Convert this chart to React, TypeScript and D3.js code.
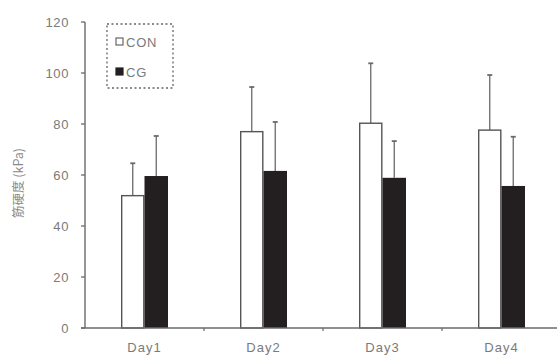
import React from "react";
import * as d3 from "d3";

const categories = ["Day1", "Day2", "Day3", "Day4"];
const seriesNames = ["CON", "CG"];
const conMeans = [51.9, 77, 80.3, 77.6];
const conSD = [12.7, 17.5, 23.5, 21.6];
const cgMeans = [59.6, 61.6, 58.9, 55.7];
const cgSD = [15.7, 19.2, 14.4, 19.3];
const yTicks = [0, 20, 40, 60, 80, 100, 120];

const W = 557;
const H = 360;
const M = { left: 85, right: -4, top: 22, bottom: 32 };

export default function App() {
  const x = d3.scaleBand<string>().domain(categories).range([M.left, W - M.right]).paddingInner(0).paddingOuter(0);
  const y = d3.scaleLinear().domain([0, 120]).range([H - M.bottom, M.top]);
  const barW = 23.5;
  const series = [
    { name: seriesNames[0], means: conMeans, sd: conSD, fill: "#ffffff" },
    { name: seriesNames[1], means: cgMeans, sd: cgSD, fill: "#231f20" },
  ];
  const grey = "#6a6a6a";
  const txt = "#7a7a7a";
  const font = "Liberation Sans, Arial, sans-serif";
  return (
    <svg width={W} height={H} style={{ position: "absolute", left: 0, top: 0, background: "#fff" }}>
      {categories.map((c, i) => {
        const cx = (x(c) as number) + x.bandwidth() / 2;
        return series.map((s, j) => {
          const bx = cx - barW + j * barW;
          const v = s.means[i];
          const e = v + s.sd[i];
          const mx = bx + barW / 2;
          return (
            <g key={c + s.name}>
              <line x1={mx} x2={mx} y1={y(v)} y2={y(e)} stroke={grey} strokeWidth={1.3} />
              <line x1={mx - 2.5} x2={mx + 2.5} y1={y(e)} y2={y(e)} stroke={grey} strokeWidth={1.8} />
              <rect
                x={bx + (j === 0 ? 0.7 : 0)}
                y={y(v)}
                width={barW - (j === 0 ? 1.4 : 0)}
                height={y(0) - y(v)}
                fill={s.fill}
                stroke={j === 0 ? "#555" : s.fill}
                strokeWidth={j === 0 ? 1.4 : 0}
              />
            </g>
          );
        });
      })}
      <line x1={M.left} x2={M.left} y1={y(120)} y2={y(0)} stroke={grey} strokeWidth={1.4} />
      {yTicks.map((t) => (
        <g key={t}>
          <line x1={M.left - 4} x2={M.left} y1={y(t)} y2={y(t)} stroke={grey} strokeWidth={1.3} />
          <text x={M.left - 16} y={y(t)} dy="0.35em" textAnchor="end" fontSize={13} letterSpacing={0.6} fill={txt} fontFamily={font}>
            {t}
          </text>
        </g>
      ))}
      <line x1={M.left - 4} x2={W} y1={y(0)} y2={y(0)} stroke={grey} strokeWidth={1.4} />
      {categories.slice(1).map((c) => (
        <line key={c} x1={x(c) as number} x2={x(c) as number} y1={y(0)} y2={y(0) + 3} stroke={grey} strokeWidth={1.2} />
      ))}
      {categories.map((c) => (
        <text
          key={c}
          x={(x(c) as number) + x.bandwidth() / 2}
          y={H - 8}
          textAnchor="middle"
          fontSize={13}
          letterSpacing={1}
          fill={txt}
          fontFamily={font}
        >
          {c}
        </text>
      ))}
      <text
        transform={`translate(23, 183) rotate(-90)`}
        textAnchor="middle"
        fontSize={12.5}
        fill="#8a8a8a"
        fontFamily="'Noto Sans CJK JP', sans-serif"
      >
        筋硬度 (kPa)
      </text>
      <rect x={107} y={24} width={66} height={64} fill="#fff" stroke="#666" strokeWidth={1.3} strokeDasharray="2,2.5" />
      {series.map((s, j) => (
        <g key={s.name}>
          <rect x={116} y={38 + j * 30} width={7} height={7} fill={j === 0 ? "#fff" : "#231f20"} stroke={j === 0 ? "#666" : "#231f20"} strokeWidth={1.2} />
          <text x={126} y={42 + j * 30} dy="0.35em" fontSize={13} letterSpacing={0.8} fill={txt} fontFamily={font}>
            {s.name}
          </text>
        </g>
      ))}
    </svg>
  );
}
